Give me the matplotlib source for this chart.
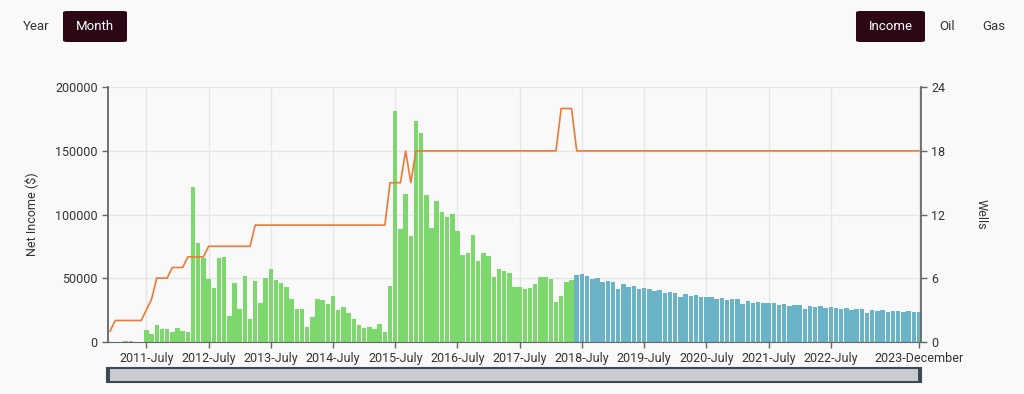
import numpy as np
import matplotlib
matplotlib.use("Agg")
import matplotlib.pyplot as plt
from matplotlib.patches import FancyBboxPatch, Rectangle

plt.rcParams["font.family"] = ["Roboto", "DejaVu Sans"]

# month index 0 = 2011-July; data runs from 2010-December (-7) to 2023-December (149)
first_month = -7

# net income, actual months (2010-12 .. 2018-05)
actual_income = [
    0, 0, 0, 400, 400, 0, 0,
    9400, 6000, 13300, 9900, 9900, 7550, 10400, 8300, 7300, 121600,
    77900, 66100, 49200, 41900, 66100, 66700, 20500, 46000, 25500, 51500,
    17600, 47400, 30300, 50300, 57400, 48700, 46300, 43200, 33400, 26000,
    25500, 11200, 19400, 33400, 32600, 30000, 36100, 25100, 27500, 22200,
    17900, 12800, 10400, 11200, 9600, 13900, 8000, 43600, 181500, 88800,
    116400, 83100, 173700, 163800, 115100, 89300, 110400, 102300, 98400, 100500,
    87200, 68500, 70000, 83600, 63500, 70000, 67200, 50800, 56800, 55200,
    54200, 43000, 43000, 41100, 42200, 45300, 50700, 50900, 49000, 30900,
    35700, 47200, 48800,
]

# net income, projected months (2018-06 .. 2023-12)
projected_income = [
    52400, 52900, 51600, 48900, 49700, 47100, 47900, 46800, 41500, 45200,
    43100, 43600, 41800, 42000, 41500, 39600, 40400, 38600, 38800, 38300,
    35400, 37500, 35900, 36700, 34800, 35400, 35100, 33500, 34300, 33000,
    33500, 33200, 29500, 32300,
    30400, 31400, 30100, 30700, 30100, 29100, 29600, 28300, 29100, 28800,
    25700, 28300, 27200, 27800, 26500, 27000, 26700, 25700, 26500, 25200,
    25900, 25700, 22800, 25200, 24400, 24600, 23600, 24400, 24400, 23600,
    23800, 23100, 23300,
]

# producing wells per month (2010-12 .. 2023-12)
wells = ([1] + [2] * 6 + [3, 4] + [6] * 3 + [7] * 3 + [8] * 4 + [9] * 9
         + [11] * 26 + [15] * 3 + [18, 15] + [18] * 28 + [22] * 3 + [18] * 67)

tick_labels = ["2011-July", "2012-July", "2013-July", "2014-July", "2015-July",
               "2016-July", "2017-July", "2018-July", "2019-July", "2020-July",
               "2021-July", "2022-July", "2023-December"]
tick_months = [0, 12, 24, 36, 48, 60, 72, 84, 96, 108, 120, 132, 149]

BG = "#f9f9f9"
GREEN = "#7cd86c"
BLUE = "#6ab2c5"
ORANGE = "#ec7a35"
AXIS = "#666666"
TEXT = "#333333"

x_actual = np.arange(first_month, first_month + len(actual_income))
x_proj = np.arange(x_actual[-1] + 1, x_actual[-1] + 1 + len(projected_income))
x_wells = np.arange(first_month, first_month + len(wells))

fig = plt.figure(figsize=(10.24, 3.94), dpi=100, facecolor=BG)
ax = fig.add_axes([108 / 1024, 52.3 / 394, 813 / 1024, 254.4 / 394])
ax.set_facecolor(BG)

ax.bar(x_actual, actual_income, width=0.86, color=GREEN, zorder=2)
ax.bar(x_proj, projected_income, width=0.86, color=BLUE, zorder=2)
ax.set_xlim(-7.4, 149.4)
ax.set_ylim(0, 200000)
ax.set_yticks([0, 50000, 100000, 150000, 200000])
ax.set_yticklabels(["0", "50000", "100000", "150000", "200000"])
ax.set_xticks(tick_months)
ax.set_xticklabels(tick_labels)
ax.grid(True, color="#e6e6e6", linewidth=1, zorder=0)
ax.set_axisbelow(True)
ax.tick_params(colors=AXIS, labelcolor=TEXT, labelsize=9, length=4, width=1)
ax.set_ylabel("Net Income ($)", fontsize=9, color=TEXT, labelpad=12)
for s in ["top", "right"]:
    ax.spines[s].set_visible(False)
ax.spines["left"].set_color(AXIS)
ax.spines["left"].set_linewidth(1.3)
ax.spines["bottom"].set_color(AXIS)

ax2 = ax.twinx()
ax2.plot(x_wells, wells, color=ORANGE, linewidth=1.2, zorder=3)
ax2.set_ylim(0, 24)
ax2.set_yticks([0, 6, 12, 18, 24])
ax2.tick_params(colors=AXIS, labelcolor=TEXT, labelsize=9, length=4, width=1)
ax2.set_ylabel("Wells", fontsize=9, color=TEXT, rotation=-90, labelpad=30)
for s in ["top", "left", "bottom"]:
    ax2.spines[s].set_visible(False)
ax2.spines["right"].set_color(AXIS)
ax2.spines["right"].set_linewidth(1.3)


def px(x, y):
    return x / 1024, 1 - y / 394


def button(x0, x1, y0, y1, label):
    bx, by = px(x0, y1)
    w, h = (x1 - x0) / 1024, (y1 - y0) / 394
    fig.patches.append(FancyBboxPatch((bx, by), w, h,
                                      boxstyle="round,pad=0,rounding_size=0.004",
                                      transform=fig.transFigure,
                                      facecolor="#2c0816", edgecolor="none"))
    fig.text(*px((x0 + x1) / 2, (y0 + y1) / 2), label, color="white",
             fontsize=9.5, ha="center", va="center")


fig.text(*px(36, 26), "Year", color=TEXT, fontsize=9.5, ha="center", va="center")
button(63, 127, 11, 42, "Month")
button(856, 925, 11, 42, "Income")
fig.text(*px(947, 26), "Oil", color=TEXT, fontsize=9.5, ha="center", va="center")
fig.text(*px(994, 26), "Gas", color=TEXT, fontsize=9.5, ha="center", va="center")

# range selector bar under the chart
sx, sy = px(107, 382)
fig.patches.append(Rectangle((sx, sy), 814 / 1024, 14 / 394, transform=fig.transFigure,
                             facecolor="#c8ccd0", edgecolor="#3c4853", linewidth=1.5))
for hx in (106, 918):
    hx0, hy0 = px(hx, 381)
    fig.patches.append(Rectangle((hx0, hy0), 4 / 1024, 12 / 394, transform=fig.transFigure,
                                 facecolor="#3c4853", edgecolor="none"))

fig.savefig("out.png", dpi=100, facecolor=BG)
